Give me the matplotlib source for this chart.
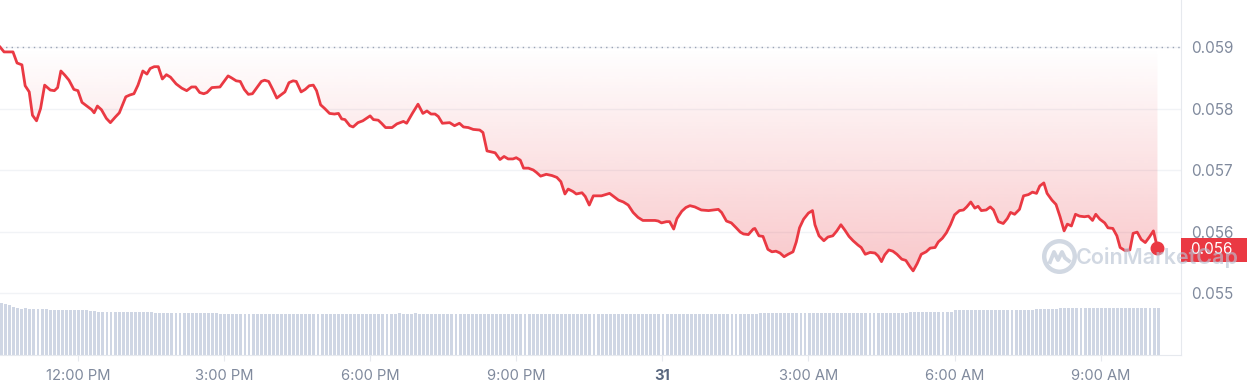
import matplotlib.pyplot as plt
import matplotlib.dates as mdates
import matplotlib.colors as mcolors
from matplotlib.patches import Rectangle
from matplotlib.transforms import blended_transform_factory
from matplotlib.ticker import FormatStrFormatter
import numpy as np
import pandas as pd

plt.rcParams['font.family'] = ['Inter', 'DejaVu Sans']

RED = '#EA3943'
GREY = '#808A9D'

# price series (minutes after the first point, price in USD)
start = pd.Timestamp('2023-05-30 10:24')
minutes = [
    0, 5, 16, 21, 27, 31, 36, 40, 45, 50,
    55, 62, 67, 71, 75, 80, 85, 91, 96, 101,
    107, 113, 116, 120, 125, 131, 136, 142, 147, 155,
    160, 165, 170, 176, 181, 185, 190, 195, 200, 205,
    210, 217, 224, 230, 236, 241, 246, 251, 255, 261,
    271, 276, 281, 285, 291, 296, 301, 306, 311, 316,
    322, 326, 331, 336, 341, 346, 351, 356, 361, 365,
    371, 376, 381, 386, 390, 395, 400, 406, 412, 417,
    421, 425, 431, 435, 441, 447, 456, 460, 466, 470,
    475, 483, 489, 493, 497, 501, 508, 515, 521, 526,
    531, 536, 540, 545, 554, 560, 566, 571, 577, 583,
    591, 595, 600, 610, 616, 621, 626, 632, 636, 641,
    645, 651, 657, 661, 666, 673, 680, 686, 691, 696,
    700, 706, 710, 717, 721, 726, 731, 741, 751, 755,
    762, 768, 774, 780, 786, 792, 799, 807, 811, 815,
    821, 825, 830, 834, 840, 845, 850, 856, 864, 873,
    879, 885, 889, 895, 901, 907, 912, 916, 922, 928,
    930, 935, 940, 946, 951, 956, 961, 966, 971, 977,
    981, 985, 990, 996, 1001, 1004, 1009, 1015, 1020, 1026,
    1031, 1036, 1041, 1046, 1051, 1057, 1061, 1066, 1072, 1078,
    1082, 1086, 1090, 1095, 1100, 1105, 1111, 1116, 1121, 1125,
    1130, 1135, 1141, 1146, 1152, 1156, 1161, 1166, 1171, 1176,
    1182, 1187, 1191, 1196, 1201, 1205, 1209, 1215, 1220, 1224,
    1230, 1236, 1241, 1245, 1250, 1256, 1261, 1267, 1272, 1277,
    1281, 1286, 1290, 1296, 1301, 1306, 1311, 1315, 1320, 1325,
    1330, 1336, 1341, 1346, 1350, 1355, 1361, 1365, 1371, 1376,
    1380, 1386, 1392, 1396, 1401, 1406, 1411, 1416, 1421, 1426,
]
prices = [
    0.05900, 0.05892, 0.05892, 0.05874, 0.05871, 0.05837, 0.05827, 0.05789, 0.05780, 0.05800,
    0.05838, 0.05830, 0.05829, 0.05834, 0.05861, 0.05854, 0.05846, 0.05831, 0.05829, 0.05810,
    0.05804, 0.05798, 0.05793, 0.05804, 0.05798, 0.05784, 0.05777, 0.05786, 0.05793, 0.05819,
    0.05822, 0.05824, 0.05838, 0.05861, 0.05856, 0.05865, 0.05868, 0.05868, 0.05848, 0.05855,
    0.05851, 0.05840, 0.05833, 0.05829, 0.05835, 0.05835, 0.05826, 0.05824, 0.05826, 0.05834,
    0.05835, 0.05844, 0.05853, 0.05850, 0.05845, 0.05844, 0.05831, 0.05823, 0.05824, 0.05833,
    0.05844, 0.05846, 0.05844, 0.05831, 0.05817, 0.05822, 0.05827, 0.05842, 0.05845, 0.05844,
    0.05827, 0.05831, 0.05837, 0.05838, 0.05829, 0.05806, 0.05800, 0.05792, 0.05791, 0.05792,
    0.05783, 0.05782, 0.05772, 0.05770, 0.05777, 0.05780, 0.05788, 0.05782, 0.05781, 0.05776,
    0.05769, 0.05769, 0.05775, 0.05777, 0.05779, 0.05776, 0.05792, 0.05807, 0.05792, 0.05796,
    0.05791, 0.05791, 0.05787, 0.05776, 0.05777, 0.05772, 0.05776, 0.05770, 0.05769, 0.05766,
    0.05765, 0.05761, 0.05731, 0.05728, 0.05717, 0.05722, 0.05718, 0.05718, 0.05720, 0.05716,
    0.05703, 0.05703, 0.05700, 0.05696, 0.05690, 0.05693, 0.05691, 0.05688, 0.05681, 0.05661,
    0.05669, 0.05665, 0.05661, 0.05663, 0.05657, 0.05643, 0.05658, 0.05658, 0.05662, 0.05658,
    0.05651, 0.05648, 0.05643, 0.05631, 0.05623, 0.05618, 0.05618, 0.05618, 0.05617, 0.05614,
    0.05616, 0.05616, 0.05604, 0.05621, 0.05633, 0.05639, 0.05642, 0.05640, 0.05635, 0.05634,
    0.05635, 0.05636, 0.05631, 0.05617, 0.05614, 0.05606, 0.05599, 0.05596, 0.05595, 0.05604,
    0.05605, 0.05593, 0.05592, 0.05571, 0.05567, 0.05568, 0.05565, 0.05559, 0.05563, 0.05567,
    0.05583, 0.05606, 0.05620, 0.05630, 0.05634, 0.05611, 0.05593, 0.05585, 0.05591, 0.05593,
    0.05601, 0.05611, 0.05602, 0.05592, 0.05585, 0.05578, 0.05574, 0.05563, 0.05566, 0.05565,
    0.05560, 0.05551, 0.05562, 0.05570, 0.05568, 0.05563, 0.05555, 0.05553, 0.05543, 0.05536,
    0.05548, 0.05563, 0.05567, 0.05573, 0.05574, 0.05583, 0.05589, 0.05598, 0.05611, 0.05627,
    0.05634, 0.05635, 0.05640, 0.05648, 0.05638, 0.05641, 0.05634, 0.05635, 0.05640, 0.05635,
    0.05616, 0.05613, 0.05621, 0.05631, 0.05628, 0.05636, 0.05658, 0.05660, 0.05664, 0.05662,
    0.05674, 0.05679, 0.05662, 0.05651, 0.05644, 0.05624, 0.05601, 0.05612, 0.05609, 0.05628,
    0.05625, 0.05624, 0.05625, 0.05618, 0.05628, 0.05620, 0.05614, 0.05606, 0.05605, 0.05593,
    0.05574, 0.05569, 0.05570, 0.05597, 0.05599, 0.05587, 0.05582, 0.05591, 0.05601, 0.05573,
]
open_price = 0.05900

# 24h volume, one bar every 5 minutes (relative units)
volume = [
    52.2, 51.2, 50.2, 47.8, 46.8, 46.2, 46.8, 46.4, 46.4, 46.4, 46.4, 46.2,
    45.2, 45.0, 45.2, 45.2, 45.0, 45.0, 45.2, 45.0, 45.0, 44.8, 43.8, 43.8,
    43.0, 43.0, 43.0, 43.1, 43.0, 43.0, 43.0, 43.1, 43.0, 43.0, 43.0, 42.9,
    43.0, 42.8, 42.0, 42.0, 42.1, 42.0, 42.0, 42.0, 42.0, 42.1, 42.0, 42.0,
    42.0, 42.0, 42.0, 42.0, 41.9, 42.0, 40.7, 40.7, 40.7, 40.7, 40.7, 40.7,
    40.7, 40.7, 40.7, 40.7, 40.7, 40.7, 40.7, 40.7, 40.7, 40.7, 40.7, 40.7,
    40.7, 40.7, 40.7, 40.7, 40.7, 40.7, 40.7, 40.7, 40.7, 40.7, 40.7, 40.7,
    40.7, 40.7, 40.7, 40.7, 40.7, 40.7, 40.7, 40.7, 40.7, 40.7, 40.7, 41.4,
    41.0, 41.4, 41.6, 41.4, 40.9, 41.2, 41.6, 41.5, 40.9, 40.9, 40.9, 40.9,
    40.9, 40.9, 40.9, 40.9, 40.9, 40.9, 40.9, 40.9, 40.9, 40.9, 40.9, 40.9,
    40.9, 41.4, 41.4, 41.4, 41.4, 41.4, 41.4, 41.4, 41.4, 41.4, 41.4, 41.4,
    41.4, 41.4, 41.4, 41.4, 41.4, 41.4, 41.4, 41.4, 41.4, 41.4, 41.4, 41.4,
    41.4, 41.4, 41.4, 41.4, 41.4, 41.4, 41.4, 41.4, 41.4, 41.0, 40.8, 40.6,
    41.2, 41.2, 41.2, 41.4, 41.4, 41.4, 41.4, 41.4, 41.4, 41.4, 41.4, 41.4,
    41.4, 41.4, 41.4, 41.4, 41.4, 41.4, 41.4, 41.4, 41.4, 41.4, 41.4, 41.4,
    41.4, 41.4, 41.4, 41.4, 41.4, 41.4, 41.4, 42.4, 42.4, 42.4, 42.4, 42.4,
    42.4, 42.4, 41.9, 42.4, 42.4, 42.4, 42.4, 42.4, 42.4, 42.4, 42.4, 42.4,
    42.4, 42.4, 42.4, 42.4, 42.4, 42.4, 42.4, 42.4, 42.4, 42.4, 42.4, 42.4,
    42.4, 42.4, 42.4, 42.4, 42.4, 42.4, 42.4, 42.4, 43.4, 43.4, 43.4, 43.4,
    43.4, 43.4, 43.4, 43.4, 43.4, 43.4, 43.4, 44.7, 44.7, 44.7, 44.7, 44.7,
    44.7, 44.7, 44.7, 44.7, 44.7, 44.7, 44.7, 44.7, 44.7, 44.7, 44.7, 44.7,
    44.7, 44.7, 44.7, 45.8, 45.8, 45.8, 45.8, 45.8, 45.8, 47.1, 47.1, 47.1,
    47.1, 47.1, 47.1, 47.1, 47.1, 47.1, 47.1, 47.1, 47.1, 47.1, 47.1, 47.1,
    47.1, 47.1, 47.1, 47.1, 47.1, 47.1, 47.1, 47.1, 47.1, 47.1,
]

tick_times = ['2023-05-30 12:00', '2023-05-30 15:00', '2023-05-30 18:00', '2023-05-30 21:00',
              '2023-05-31 00:00', '2023-05-31 03:00', '2023-05-31 06:00', '2023-05-31 09:00']
tick_labels = ['12:00 PM', '3:00 PM', '6:00 PM', '9:00 PM', '31', '3:00 AM', '6:00 AM', '9:00 AM']
price_ticks = [0.055, 0.056, 0.057, 0.058, 0.059]

t = mdates.date2num(start + pd.to_timedelta(minutes, unit='m'))
tv = mdates.date2num(start + pd.to_timedelta(np.arange(len(volume)) * 5, unit='m'))
x0 = mdates.date2num(start)
x1 = mdates.date2num(start + pd.Timedelta(minutes=1455))

fig = plt.figure(figsize=(12.47, 3.9), dpi=100)
ax = fig.add_axes([0, 1 - 355 / 390, 1181 / 1247, 355 / 390])
ax_v = ax.twinx()
ax.set_zorder(2)
ax_v.set_zorder(1)
ax.patch.set_visible(False)

# volume bars
ax_v.bar(tv, volume, width=3.6 / 1440, align='edge', color='#CFD6E4', linewidth=0)
ax_v.set_ylim(0, max(volume) / 0.147)
ax_v.set_yticks([])
for s in ax_v.spines.values():
    s.set_visible(False)

# gradient fill between price and opening price
fill = ax.fill_between(t, prices, open_price, facecolor='none', edgecolor='none')
clip = fill.get_paths()[0]
grad = np.zeros((256, 1, 4))
grad[..., :3] = mcolors.to_rgb(RED)
grad[:, 0, 3] = np.linspace(0.0, 0.28, 256)
im = ax.imshow(grad, extent=[t[0], t[-1], min(prices), open_price], origin='upper',
               aspect='auto', interpolation='bilinear', zorder=1)
im.set_clip_path(clip, transform=ax.transData)

ax.axhline(open_price, color='#9AA3B5', lw=1, ls=(0, (1, 3)), zorder=2)
ax.plot(t, prices, color=RED, lw=2.0, zorder=3, solid_joinstyle='round')
ax.plot(t[-1], prices[-1], 'o', ms=9, color=RED, zorder=4)

ax.set_xlim(x0, x1)
ax.set_ylim(0.053992, 0.0597642)

ax.set_yticks(price_ticks)
ax.yaxis.set_major_formatter(FormatStrFormatter('%.3f'))
ax.yaxis.tick_right()
ax.grid(axis='y', color='#F1F3F6', lw=1)
ax.set_axisbelow(True)

ax.set_xticks(mdates.date2num(pd.to_datetime(tick_times)))
ax.set_xticklabels(tick_labels)
ax.tick_params(axis='x', length=4, color='#E6E9EE', pad=6, labelsize=10.6, labelcolor=GREY)
ax.tick_params(axis='y', length=0, pad=7, labelsize=11, labelcolor=GREY)
for lbl in ax.get_xticklabels():
    if lbl.get_text() == '31':
        lbl.set_fontweight('bold')
        lbl.set_color('#58667E')

for side in ['top', 'left']:
    ax.spines[side].set_visible(False)
for side in ['right', 'bottom']:
    ax.spines[side].set_color('#E6E9EE')

# current price tag, sitting just under the 0.056 axis label as in the original
trans = blended_transform_factory(ax.transAxes, ax.transData)
box_h = 0.00039
tag_y = prices[-1] - 0.00003
ax.add_patch(Rectangle((1.0, tag_y - box_h / 2), 70 / 1181, box_h, transform=trans,
                       facecolor=RED, edgecolor='none', clip_on=False, zorder=5))
ax.text(1.0 + 9 / 1181, tag_y, f'{prices[-1]:.3f}', transform=trans, color='white',
        va='center', ha='left', fontsize=11, zorder=6, clip_on=False)

# watermark
wm = '#B9C3D3'
ax.text(1076 / 1181, 1 - 257 / 355, 'CoinMarketCap', transform=ax.transAxes, fontsize=15.5,
        fontweight='semibold', color=wm, alpha=0.65, va='center', ha='left', zorder=7, clip_on=False)
cx, cy = 1059 / 1247, 1 - 256 / 390
fig.lines.append(plt.Line2D([cx], [cy], marker='o', ms=22, mfc='none', mec=wm, mew=3.2,
                            alpha=0.65, transform=fig.transFigure))
wx = np.array([-9, -5, -1, 3, 6, 10]) / 1247
wy = np.array([-6, 4, -4, 4, -2, -5]) / 390
fig.lines.append(plt.Line2D(cx + wx, cy + wy, color=wm, lw=2.8, alpha=0.65,
                            solid_joinstyle='round', transform=fig.transFigure))

fig.savefig('out.png', dpi=100)
